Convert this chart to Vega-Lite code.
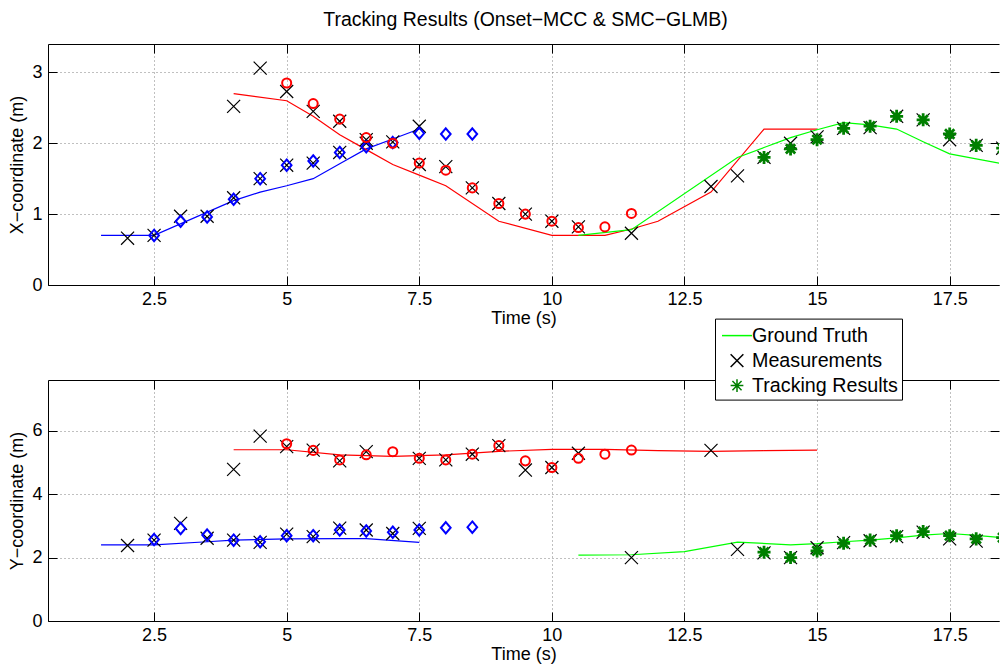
{
  "$schema": "https://vega.github.io/schema/vega-lite/v6.json",
  "background": "white",
  "padding": {"left": 8, "top": 10, "right": 0, "bottom": 0},
  "title": {"text": "Tracking Results (Onset−MCC & SMC−GLMB)", "fontSize": 19.5, "font": "Liberation Sans", "fontWeight": "normal", "color": "black", "anchor": "middle", "frame": "group", "dx": 2, "offset": -2, "baseline": "alphabetic"},
  "spacing": 95,
  "bounds": "flush",
  "datasets": {
    "truth": [
      {"p":"x","g":"blue","t":1.5,"v":0.70},{"p":"x","g":"blue","t":2.5,"v":0.70},{"p":"x","g":"blue","t":4,"v":1.19},{"p":"x","g":"blue","t":4.5,"v":1.31},{"p":"x","g":"blue","t":5,"v":1.40},{"p":"x","g":"blue","t":5.5,"v":1.50},{"p":"x","g":"blue","t":6,"v":1.71},{"p":"x","g":"blue","t":6.5,"v":1.92},{"p":"x","g":"blue","t":7,"v":2.06},{"p":"x","g":"blue","t":7.5,"v":2.20},
      {"p":"x","g":"red","t":4,"v":2.70},{"p":"x","g":"red","t":5,"v":2.60},{"p":"x","g":"red","t":5.5,"v":2.38},{"p":"x","g":"red","t":6,"v":2.12},{"p":"x","g":"red","t":6.5,"v":1.91},{"p":"x","g":"red","t":7,"v":1.70},{"p":"x","g":"red","t":7.5,"v":1.55},{"p":"x","g":"red","t":8,"v":1.40},{"p":"x","g":"red","t":9,"v":0.90},{"p":"x","g":"red","t":10,"v":0.70},{"p":"x","g":"red","t":11,"v":0.70},{"p":"x","g":"red","t":11.5,"v":0.79},{"p":"x","g":"red","t":12,"v":0.90},{"p":"x","g":"red","t":13,"v":1.31},{"p":"x","g":"red","t":14,"v":2.20},{"p":"x","g":"red","t":15,"v":2.20},
      {"p":"x","g":"green","t":10.5,"v":0.70},{"p":"x","g":"green","t":11.5,"v":0.78},{"p":"x","g":"green","t":13.5,"v":1.80},{"p":"x","g":"green","t":14,"v":1.94},{"p":"x","g":"green","t":14.5,"v":2.08},{"p":"x","g":"green","t":15,"v":2.19},{"p":"x","g":"green","t":15.5,"v":2.29},{"p":"x","g":"green","t":16,"v":2.26},{"p":"x","g":"green","t":16.5,"v":2.20},{"p":"x","g":"green","t":17,"v":2.02},{"p":"x","g":"green","t":17.5,"v":1.85},{"p":"x","g":"green","t":18,"v":1.78},{"p":"x","g":"green","t":18.5,"v":1.71},
      {"p":"y","g":"blue","t":1.5,"v":2.40},{"p":"y","g":"blue","t":2.5,"v":2.40},{"p":"y","g":"blue","t":3.5,"v":2.50},{"p":"y","g":"blue","t":4,"v":2.55},{"p":"y","g":"blue","t":5,"v":2.59},{"p":"y","g":"blue","t":6,"v":2.60},{"p":"y","g":"blue","t":6.5,"v":2.60},{"p":"y","g":"blue","t":7.5,"v":2.48},
      {"p":"y","g":"red","t":4,"v":5.40},{"p":"y","g":"red","t":5,"v":5.40},{"p":"y","g":"red","t":6,"v":5.24},{"p":"y","g":"red","t":7,"v":5.19},{"p":"y","g":"red","t":8,"v":5.24},{"p":"y","g":"red","t":9,"v":5.35},{"p":"y","g":"red","t":10,"v":5.41},{"p":"y","g":"red","t":11,"v":5.41},{"p":"y","g":"red","t":12,"v":5.37},{"p":"y","g":"red","t":13,"v":5.35},{"p":"y","g":"red","t":14,"v":5.37},{"p":"y","g":"red","t":15,"v":5.39},
      {"p":"y","g":"green","t":10.5,"v":2.08},{"p":"y","g":"green","t":11.5,"v":2.09},{"p":"y","g":"green","t":12.5,"v":2.19},{"p":"y","g":"green","t":13.5,"v":2.49},{"p":"y","g":"green","t":14.5,"v":2.40},{"p":"y","g":"green","t":15,"v":2.44},{"p":"y","g":"green","t":15.5,"v":2.50},{"p":"y","g":"green","t":16,"v":2.55},{"p":"y","g":"green","t":16.5,"v":2.62},{"p":"y","g":"green","t":17,"v":2.71},{"p":"y","g":"green","t":17.5,"v":2.76},{"p":"y","g":"green","t":18,"v":2.70},{"p":"y","g":"green","t":18.5,"v":2.63}
    ],
    "meas": [
      {"p":"x","t":2,"v":0.66},{"p":"x","t":2.5,"v":0.70},{"p":"x","t":3,"v":0.97},{"p":"x","t":3.5,"v":0.97},{"p":"x","t":4,"v":1.23},{"p":"x","t":4,"v":2.52},{"p":"x","t":4.5,"v":1.50},{"p":"x","t":4.5,"v":3.06},{"p":"x","t":5,"v":1.69},{"p":"x","t":5,"v":2.73},{"p":"x","t":5.5,"v":1.72},{"p":"x","t":5.5,"v":2.45},{"p":"x","t":6,"v":1.87},{"p":"x","t":6,"v":2.31},{"p":"x","t":6.5,"v":2.00},{"p":"x","t":6.5,"v":2.05},{"p":"x","t":7,"v":2.02},{"p":"x","t":7.5,"v":2.24},{"p":"x","t":7.5,"v":1.70},{"p":"x","t":8,"v":1.67},{"p":"x","t":8.5,"v":1.37},{"p":"x","t":9,"v":1.15},{"p":"x","t":9.5,"v":1.00},{"p":"x","t":10,"v":0.90},{"p":"x","t":10.5,"v":0.82},{"p":"x","t":11.5,"v":0.73},{"p":"x","t":13,"v":1.39},{"p":"x","t":13.5,"v":1.54},{"p":"x","t":14,"v":1.80},{"p":"x","t":14.5,"v":2.00},{"p":"x","t":15,"v":2.09},{"p":"x","t":15.5,"v":2.21},{"p":"x","t":16,"v":2.22},{"p":"x","t":16.5,"v":2.38},{"p":"x","t":17,"v":2.33},{"p":"x","t":17.5,"v":2.05},{"p":"x","t":18,"v":1.97},{"p":"x","t":18.5,"v":1.93},
      {"p":"y","t":2,"v":2.38,"kind":"Measurements"},{"p":"y","t":2.5,"v":2.55,"kind":"Measurements"},{"p":"y","t":3,"v":3.08,"kind":"Measurements"},{"p":"y","t":3.5,"v":2.61,"kind":"Measurements"},{"p":"y","t":4,"v":2.55,"kind":"Measurements"},{"p":"y","t":4,"v":4.78,"kind":"Measurements"},{"p":"y","t":4.5,"v":2.48,"kind":"Measurements"},{"p":"y","t":4.5,"v":5.83,"kind":"Measurements"},{"p":"y","t":5,"v":2.74,"kind":"Measurements"},{"p":"y","t":5,"v":5.50,"kind":"Measurements"},{"p":"y","t":5.5,"v":2.66,"kind":"Measurements"},{"p":"y","t":5.5,"v":5.39,"kind":"Measurements"},{"p":"y","t":6,"v":2.93,"kind":"Measurements"},{"p":"y","t":6,"v":5.05,"kind":"Measurements"},{"p":"y","t":6.5,"v":2.87,"kind":"Measurements"},{"p":"y","t":6.5,"v":5.34,"kind":"Measurements"},{"p":"y","t":7,"v":2.76,"kind":"Measurements"},{"p":"y","t":7.5,"v":2.92,"kind":"Measurements"},{"p":"y","t":7.5,"v":5.13,"kind":"Measurements"},{"p":"y","t":8,"v":5.08,"kind":"Measurements"},{"p":"y","t":8.5,"v":5.26,"kind":"Measurements"},{"p":"y","t":9,"v":5.53,"kind":"Measurements"},{"p":"y","t":9.5,"v":4.76,"kind":"Measurements"},{"p":"y","t":10,"v":4.84,"kind":"Measurements"},{"p":"y","t":10.5,"v":5.29,"kind":"Measurements"},{"p":"y","t":11.5,"v":2.00,"kind":"Measurements"},{"p":"y","t":13,"v":5.38,"kind":"Measurements"},{"p":"y","t":13.5,"v":2.26,"kind":"Measurements"},{"p":"y","t":14,"v":2.15,"kind":"Measurements"},{"p":"y","t":14.5,"v":2.00,"kind":"Measurements"},{"p":"y","t":15,"v":2.31,"kind":"Measurements"},{"p":"y","t":15.5,"v":2.47,"kind":"Measurements"},{"p":"y","t":16,"v":2.53,"kind":"Measurements"},{"p":"y","t":16.5,"v":2.66,"kind":"Measurements"},{"p":"y","t":17,"v":2.80,"kind":"Measurements"},{"p":"y","t":17.5,"v":2.59,"kind":"Measurements"},{"p":"y","t":18,"v":2.52,"kind":"Measurements"}
    ],
    "est": [
      {"p":"x","g":"blue","t":2.5,"v":0.70},{"p":"x","g":"blue","t":3,"v":0.90},{"p":"x","g":"blue","t":3.5,"v":0.96},{"p":"x","g":"blue","t":4,"v":1.21},{"p":"x","g":"blue","t":4.5,"v":1.50},{"p":"x","g":"blue","t":5,"v":1.69},{"p":"x","g":"blue","t":5.5,"v":1.75},{"p":"x","g":"blue","t":6,"v":1.87},{"p":"x","g":"blue","t":6.5,"v":1.95},{"p":"x","g":"blue","t":7,"v":2.01},{"p":"x","g":"blue","t":7.5,"v":2.14},{"p":"x","g":"blue","t":8,"v":2.13},{"p":"x","g":"blue","t":8.5,"v":2.13},
      {"p":"x","g":"red","t":5,"v":2.85},{"p":"x","g":"red","t":5.5,"v":2.56},{"p":"x","g":"red","t":6,"v":2.34},{"p":"x","g":"red","t":6.5,"v":2.08},{"p":"x","g":"red","t":7,"v":2.00},{"p":"x","g":"red","t":7.5,"v":1.72},{"p":"x","g":"red","t":8,"v":1.62},{"p":"x","g":"red","t":8.5,"v":1.37},{"p":"x","g":"red","t":9,"v":1.15},{"p":"x","g":"red","t":9.5,"v":1.00},{"p":"x","g":"red","t":10,"v":0.90},{"p":"x","g":"red","t":10.5,"v":0.81},{"p":"x","g":"red","t":11,"v":0.82},{"p":"x","g":"red","t":11.5,"v":1.01},
      {"p":"x","g":"green","t":14,"v":1.80},{"p":"x","g":"green","t":14.5,"v":1.92},{"p":"x","g":"green","t":15,"v":2.05},{"p":"x","g":"green","t":15.5,"v":2.21},{"p":"x","g":"green","t":16,"v":2.24},{"p":"x","g":"green","t":16.5,"v":2.38},{"p":"x","g":"green","t":17,"v":2.33},{"p":"x","g":"green","t":17.5,"v":2.13},{"p":"x","g":"green","t":18,"v":1.97},{"p":"x","g":"green","t":18.5,"v":1.93},
      {"p":"y","g":"blue","t":2.5,"v":2.57},{"p":"y","g":"blue","t":3,"v":2.92},{"p":"y","g":"blue","t":3.5,"v":2.71},{"p":"y","g":"blue","t":4,"v":2.55},{"p":"y","g":"blue","t":4.5,"v":2.50},{"p":"y","g":"blue","t":5,"v":2.69},{"p":"y","g":"blue","t":5.5,"v":2.69},{"p":"y","g":"blue","t":6,"v":2.87},{"p":"y","g":"blue","t":6.5,"v":2.84},{"p":"y","g":"blue","t":7,"v":2.80},{"p":"y","g":"blue","t":7.5,"v":2.87},{"p":"y","g":"blue","t":8,"v":2.94},{"p":"y","g":"blue","t":8.5,"v":2.96},
      {"p":"y","g":"red","t":5,"v":5.59},{"p":"y","g":"red","t":5.5,"v":5.38},{"p":"y","g":"red","t":6,"v":5.08},{"p":"y","g":"red","t":6.5,"v":5.24},{"p":"y","g":"red","t":7,"v":5.34},{"p":"y","g":"red","t":7.5,"v":5.13},{"p":"y","g":"red","t":8,"v":5.08},{"p":"y","g":"red","t":8.5,"v":5.26},{"p":"y","g":"red","t":9,"v":5.53},{"p":"y","g":"red","t":9.5,"v":5.05},{"p":"y","g":"red","t":10,"v":4.84},{"p":"y","g":"red","t":10.5,"v":5.13},{"p":"y","g":"red","t":11,"v":5.26},{"p":"y","g":"red","t":11.5,"v":5.39},
      {"p":"y","g":"green","t":14,"v":2.17,"kind":"Tracking Results"},{"p":"y","g":"green","t":14.5,"v":2.00,"kind":"Tracking Results"},{"p":"y","g":"green","t":15,"v":2.21,"kind":"Tracking Results"},{"p":"y","g":"green","t":15.5,"v":2.45,"kind":"Tracking Results"},{"p":"y","g":"green","t":16,"v":2.55,"kind":"Tracking Results"},{"p":"y","g":"green","t":16.5,"v":2.69,"kind":"Tracking Results"},{"p":"y","g":"green","t":17,"v":2.82,"kind":"Tracking Results"},{"p":"y","g":"green","t":17.5,"v":2.69,"kind":"Tracking Results"},{"p":"y","g":"green","t":18,"v":2.59,"kind":"Tracking Results"},{"p":"y","g":"green","t":18.5,"v":2.63,"kind":"Tracking Results"}
    ]
  },
  "vconcat": [
    {
      "width": 951,
      "height": 241,
      "resolve": {"axis": {"x": "independent", "y": "independent"}},
      "layer": [
        {
          "data": {"name": "truth"},
          "transform": [{"filter": "datum.p == 'x'"}],
          "mark": {"type": "line", "strokeWidth": 1.2, "clip": true},
          "encoding": {
            "x": {"field": "t", "type": "quantitative", "scale": {"domain": [0.5, 18.43], "nice": false, "zero": false},
                  "axis": {"orient": "bottom", "values": [2.5, 5, 7.5, 10, 12.5, 15, 17.5], "format": ".3~g", "grid": true, "title": "Time (s)", "labelPadding": 14.5, "titlePadding": 1}},
            "y": {"field": "v", "type": "quantitative", "scale": {"domain": [0, 3.4], "nice": false},
                  "axis": {"orient": "left", "values": [0, 1, 2, 3], "format": ".3~g", "grid": true, "title": "X−coordinate (m)", "labelPadding": 15, "titlePadding": 5}},
            "color": {"field": "g", "type": "nominal", "scale": {"domain": ["blue", "red", "green"], "range": ["#0000ff", "#ff0000", "#00ff00"]}, "legend": null}
          }
        },
        {
          "data": {"name": "meas"},
          "transform": [{"filter": "datum.p == 'x'"}],
          "mark": {"type": "point", "shape": "M-0.53,-0.53L0.53,0.53M-0.53,0.53L0.53,-0.53", "filled": false, "stroke": "#000000", "strokeWidth": 1.2, "size": 605, "opacity": 1, "clip": true},
          "encoding": {
            "x": {"field": "t", "type": "quantitative", "axis": {"orient": "top", "values": [2.5, 5, 7.5, 10, 12.5, 15, 17.5], "labels": false, "grid": false, "title": null}},
            "y": {"field": "v", "type": "quantitative", "axis": {"orient": "right", "values": [0, 1, 2, 3], "labels": false, "grid": false, "domain": false, "title": null}}
          }
        },
        {
          "data": {"name": "est"},
          "transform": [{"filter": "datum.p == 'x' && datum.g == 'blue'"}],
          "mark": {"type": "point", "shape": "M0,-1L0.85,0L0,1L-0.85,0Z", "filled": false, "stroke": "#0000ff", "strokeWidth": 2, "size": 130, "opacity": 1, "clip": true},
          "encoding": {
            "x": {"field": "t", "type": "quantitative", "axis": null},
            "y": {"field": "v", "type": "quantitative", "axis": null}
          }
        },
        {
          "data": {"name": "est"},
          "transform": [{"filter": "datum.p == 'x' && datum.g == 'red'"}],
          "mark": {"type": "point", "shape": "circle", "filled": false, "stroke": "#ff0000", "strokeWidth": 2, "size": 82, "opacity": 1, "clip": true},
          "encoding": {
            "x": {"field": "t", "type": "quantitative", "axis": null},
            "y": {"field": "v", "type": "quantitative", "axis": null}
          }
        },
        {
          "data": {"name": "est"},
          "transform": [{"filter": "datum.p == 'x' && datum.g == 'green'"}],
          "mark": {"type": "point", "shape": "M-0.53,0L0.53,0M0,-0.53L0,0.53M-0.38,-0.38L0.38,0.38M-0.38,0.38L0.38,-0.38", "filled": false, "stroke": "#007f00", "strokeWidth": 2.8, "size": 605, "opacity": 1, "clip": true},
          "encoding": {
            "x": {"field": "t", "type": "quantitative", "axis": null},
            "y": {"field": "v", "type": "quantitative", "axis": null}
          }
        }
      ]
    },
    {
      "width": 951,
      "height": 241,
      "resolve": {"axis": {"x": "independent", "y": "independent"}},
      "layer": [
        {
          "data": {"name": "truth"},
          "transform": [{"filter": "datum.p == 'y'"}],
          "mark": {"type": "line", "strokeWidth": 1.2, "clip": true},
          "encoding": {
            "x": {"field": "t", "type": "quantitative", "scale": {"domain": [0.5, 18.43], "nice": false, "zero": false},
                  "axis": {"orient": "bottom", "values": [2.5, 5, 7.5, 10, 12.5, 15, 17.5], "format": ".3~g", "grid": true, "title": "Time (s)", "labelPadding": 14.5, "titlePadding": 1}},
            "y": {"field": "v", "type": "quantitative", "scale": {"domain": [0, 7.6], "nice": false},
                  "axis": {"orient": "left", "values": [0, 2, 4, 6], "format": ".3~g", "grid": true, "title": "Y−coordinate (m)", "labelPadding": 15, "titlePadding": 5}},
            "color": {"field": "g", "type": "nominal", "scale": {"domain": ["blue", "red", "green"], "range": ["#0000ff", "#ff0000", "#00ff00"]}, "legend": null}
          }
        },
        {
          "data": {"name": "meas"},
          "transform": [{"filter": "datum.p == 'y'"}],
          "mark": {"type": "point", "filled": false, "strokeWidth": 1.2, "size": 605, "opacity": 1, "clip": true},
          "encoding": {
            "x": {"field": "t", "type": "quantitative", "axis": {"orient": "top", "values": [2.5, 5, 7.5, 10, 12.5, 15, 17.5], "labels": false, "grid": false, "title": null}},
            "y": {"field": "v", "type": "quantitative", "axis": {"orient": "right", "values": [0, 2, 4, 6], "labels": false, "grid": false, "domain": false, "title": null}},
            "shape": {"field": "kind", "type": "nominal",
                      "scale": {"domain": ["Ground Truth", "Measurements", "Tracking Results"], "range": ["M-1.25,0L1.25,0", "M-0.53,-0.53L0.53,0.53M-0.53,0.53L0.53,-0.53", "M-0.53,0L0.53,0M0,-0.53L0,0.53M-0.38,-0.38L0.38,0.38M-0.38,0.38L0.38,-0.38"]},
                      "legend": {"orient": "none", "legendX": 667, "legendY": 274.6, "title": null}},
            "stroke": {"field": "kind", "type": "nominal",
                      "scale": {"domain": ["Ground Truth", "Measurements", "Tracking Results"], "range": ["#00ff00", "#000000", "#007f00"]},
                      "legend": {"orient": "none", "legendX": 667, "legendY": 274.6, "title": null}}
          }
        },
        {
          "data": {"name": "est"},
          "transform": [{"filter": "datum.p == 'y' && datum.g == 'blue'"}],
          "mark": {"type": "point", "shape": "M0,-1L0.85,0L0,1L-0.85,0Z", "filled": false, "stroke": "#0000ff", "strokeWidth": 2, "size": 130, "opacity": 1, "clip": true},
          "encoding": {
            "x": {"field": "t", "type": "quantitative", "axis": null},
            "y": {"field": "v", "type": "quantitative", "axis": null}
          }
        },
        {
          "data": {"name": "est"},
          "transform": [{"filter": "datum.p == 'y' && datum.g == 'red'"}],
          "mark": {"type": "point", "shape": "circle", "filled": false, "stroke": "#ff0000", "strokeWidth": 2, "size": 82, "opacity": 1, "clip": true},
          "encoding": {
            "x": {"field": "t", "type": "quantitative", "axis": null},
            "y": {"field": "v", "type": "quantitative", "axis": null}
          }
        },
        {
          "data": {"name": "est"},
          "transform": [{"filter": "datum.p == 'y' && datum.g == 'green'"}],
          "mark": {"type": "point", "filled": false, "strokeWidth": 2.8, "size": 605, "opacity": 1, "clip": true},
          "encoding": {
            "x": {"field": "t", "type": "quantitative", "axis": null},
            "y": {"field": "v", "type": "quantitative", "axis": null},
            "shape": {"field": "kind", "type": "nominal",
                      "scale": {"domain": ["Ground Truth", "Measurements", "Tracking Results"], "range": ["M-1.25,0L1.25,0", "M-0.53,-0.53L0.53,0.53M-0.53,0.53L0.53,-0.53", "M-0.53,0L0.53,0M0,-0.53L0,0.53M-0.38,-0.38L0.38,0.38M-0.38,0.38L0.38,-0.38"]},
                      "legend": {"orient": "none", "legendX": 667, "legendY": 274.6, "title": null}},
            "stroke": {"field": "kind", "type": "nominal",
                      "scale": {"domain": ["Ground Truth", "Measurements", "Tracking Results"], "range": ["#00ff00", "#000000", "#007f00"]},
                      "legend": {"orient": "none", "legendX": 667, "legendY": 274.6, "title": null}}
          }
        }
      ]
    }
  ],
  "config": {
    "view": {"stroke": null},
    "font": "Liberation Sans",
    "axis": {
      "labelFont": "Liberation Sans", "titleFont": "Liberation Sans",
      "labelFontSize": 18, "titleFontSize": 18, "titleFontWeight": "normal",
      "labelColor": "#000000", "titleColor": "#000000",
      "domainColor": "#000000", "domainWidth": 1,
      "tickColor": "#000000", "tickWidth": 1, "tickSize": -9,
      "gridColor": "#808080", "gridDash": [1, 3], "gridOpacity": 1, "gridWidth": 1,
      "labelFlush": false, "labelOverlap": false
    },
    "legend": {
      "labelFont": "Liberation Sans", "labelFontSize": 19.7, "labelColor": "#000000",
      "symbolSize": 576, "symbolStrokeWidth": 1.5,
      "padding": 4, "rowPadding": 2, "symbolOffset": 5, "labelOffset": 2,
      "fillColor": "#ffffff", "strokeColor": "#000000", "cornerRadius": 0
    }
  }
}
